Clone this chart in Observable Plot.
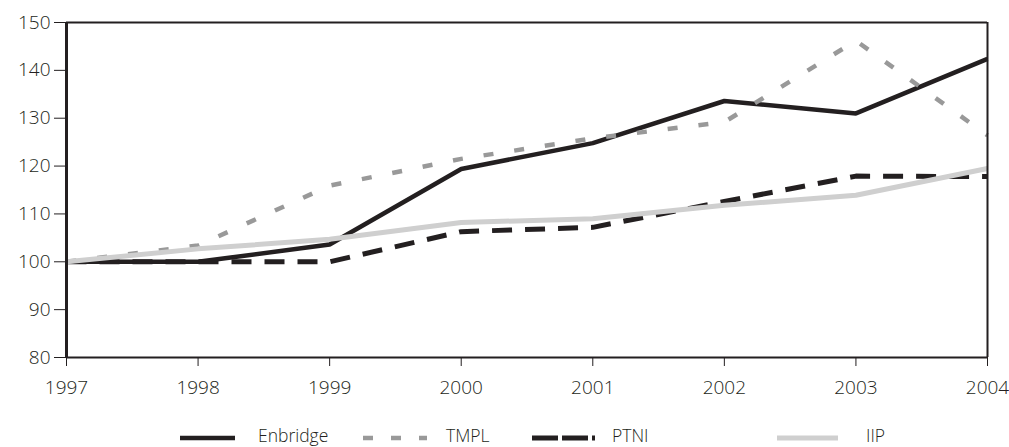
<!DOCTYPE html>
<html>
<head>
<meta charset="utf-8">
<script src="https://cdn.jsdelivr.net/npm/d3@7"></script>
<script src="https://cdn.jsdelivr.net/npm/@observablehq/plot@0.6"></script>
<style>
  html, body { margin: 0; padding: 0; background: #fff; }
  #chart svg { display: block; }
  #legend { display: block; }
</style>
</head>
<body>
<div id="chart"></div>
<script>
const years = [1997, 1998, 1999, 2000, 2001, 2002, 2003, 2004];
const enbridge = [100, 100, 103.6, 119.4, 124.8, 133.6, 131.0, 142.4];
const tmpl     = [100, 103.4, 115.9, 121.5, 125.8, 129.2, 146.2, 126.4];
const ptni     = [100, 100, 100, 106.3, 107.2, 112.6, 117.9, 117.8];
const iip      = [100, 102.7, 104.7, 108.2, 109.0, 111.8, 113.9, 119.5];
const yTicks = [80, 90, 100, 110, 120, 130, 140, 150];
const seriesNames = ["Enbridge", "TMPL", "PTNI", "IIP"];

const styles = {
  Enbridge: {stroke: "#231f20", strokeWidth: 4.5, dash: null},
  TMPL: {stroke: "#999999", strokeWidth: 4.5, dash: "10,21"},
  PTNI: {stroke: "#231f20", strokeWidth: 5, dash: "20,13"},
  IIP: {stroke: "#cfcfcf", strokeWidth: 5, dash: null}
};
const values = {Enbridge: enbridge, TMPL: tmpl, PTNI: ptni, IIP: iip};
const drawOrder = ["Enbridge", "PTNI", "TMPL", "IIP"];

const rows = name => years.map((y, i) => ({year: y, value: values[name][i], series: name}));

const font = "'Open Sans', sans-serif";

const plot = Plot.plot({
  width: 1009,
  height: 400,
  marginLeft: 66,
  marginRight: 22,
  marginTop: 22,
  marginBottom: 43,
  style: {fontFamily: font, fontSize: "19px", color: "#231f20", background: "#fff", fontWeight: 300},
  x: {domain: [1997, 2004]},
  y: {domain: [80, 150]},
  marks: [
    ...drawOrder.map(name => Plot.line(rows(name), {
      x: "year", y: "value",
      stroke: styles[name].stroke,
      strokeWidth: styles[name].strokeWidth,
      strokeDasharray: styles[name].dash,
      strokeLinejoin: "miter",
      strokeLinecap: "butt"
    })),
    Plot.ruleY([150], {stroke: "#231f20", strokeWidth: 2}),
    Plot.ruleX([2004], {stroke: "#231f20", strokeWidth: 2}),
    Plot.ruleY([80], {stroke: "#231f20", strokeWidth: 2}),
    Plot.ruleX([1997], {stroke: "#231f20", strokeWidth: 3}),
    Plot.axisY({ticks: yTicks, tickSize: 12, tickPadding: 4, tickFormat: d => String(d), label: null, fontSize: 19}),
    Plot.axisX({ticks: years, tickSize: 9, tickPadding: 14, tickFormat: d => String(d), label: null, fontSize: 19})
  ]
});
document.getElementById("chart").appendChild(plot);

// Legend below the chart
const legendItems = [
  {name: "Enbridge", x0: 180, x1: 235, tx: 258, dash: null, w: 4.5},
  {name: "TMPL", x0: 363, x1: 427, tx: 446, dash: "10,18", w: 4.5},
  {name: "PTNI", x0: 532, x1: 595, tx: 612, dash: "26,4", w: 5},
  {name: "IIP", x0: 777, x1: 838, tx: 866, dash: null, w: 5}
];
const lsvg = d3.select("body").append("svg")
  .attr("id", "legend")
  .attr("width", 1009).attr("height", 47);
const ly = 38;
legendItems.forEach(it => {
  const s = styles[it.name];
  lsvg.append("line")
    .attr("x1", it.x0).attr("x2", it.x1).attr("y1", ly).attr("y2", ly)
    .attr("stroke", s.stroke).attr("stroke-width", it.w)
    .attr("stroke-dasharray", it.dash);
  lsvg.append("text")
    .attr("x", it.tx).attr("y", ly + 4)
    .attr("font-family", font).attr("font-size", 17.5)
    .attr("font-weight", 300)
    .attr("fill", "#231f20")
    .text(it.name);
});
</script>
</body>
</html>
